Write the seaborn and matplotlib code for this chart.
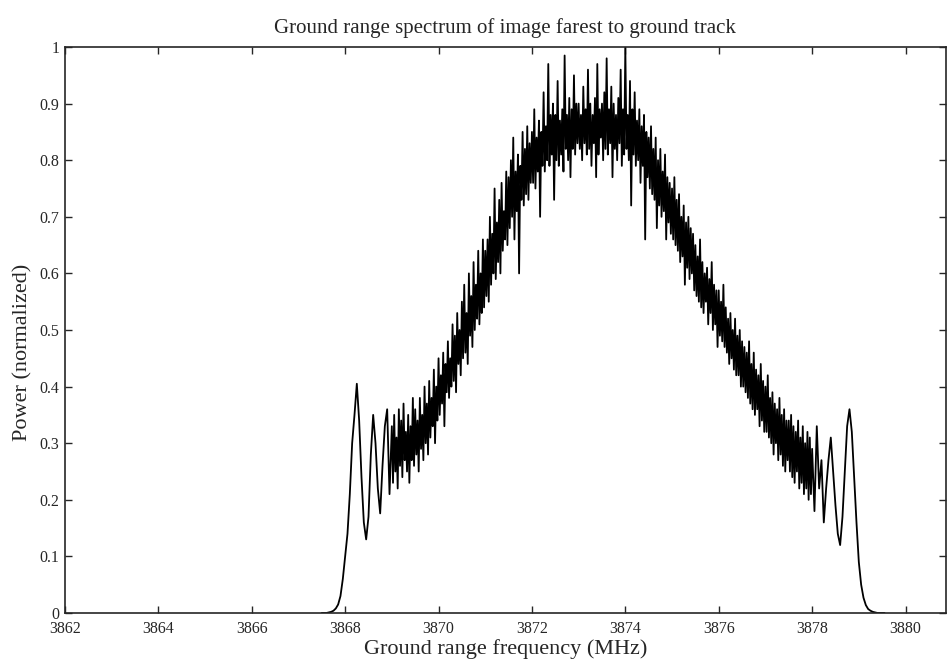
import numpy as np
import pandas as pd
import matplotlib
matplotlib.use("Agg")
import matplotlib.pyplot as plt
import seaborn as sns

# Spectrum in three pieces: the two band edges on a
# 0.05 MHz grid and the noisy main lobe on a finer 0.025 MHz grid.
left_start, left_step = 3867.50, 0.05
left_power = [
    0.0, 0.0, 0.0, 0.001, 0.002, 0.004, 0.008, 0.015, 0.03, 0.06,          # 3867.5
    0.10, 0.14, 0.21, 0.30, 0.35, 0.405, 0.34, 0.24, 0.16, 0.13,          # 3868.0
    0.17, 0.28, 0.35, 0.30, 0.22, 0.176, 0.26, 0.33, 0.36, 0.21,          # 3868.5
]

core_start, core_step = 3869.00, 0.025
core_power = [
    0.33, 0.23, 0.35, 0.25, 0.31, 0.22, 0.36, 0.26, 0.34, 0.24, 0.37, 0.27, 0.32, 0.25, 0.35, 0.23, 0.33, 0.27, 0.38, 0.26,  # 3869.0
    0.36, 0.28, 0.34, 0.25, 0.38, 0.29, 0.35, 0.27, 0.40, 0.30, 0.37, 0.28, 0.41, 0.31, 0.38, 0.33, 0.43, 0.30, 0.40, 0.34,  # 3869.5
    0.45, 0.35, 0.42, 0.37, 0.46, 0.33, 0.44, 0.39, 0.48, 0.38, 0.45, 0.40, 0.51, 0.41, 0.49, 0.39, 0.53, 0.44, 0.50, 0.42,  # 3870.0
    0.55, 0.45, 0.58, 0.46, 0.53, 0.44, 0.60, 0.49, 0.56, 0.47, 0.62, 0.50, 0.58, 0.52, 0.64, 0.51, 0.60, 0.53, 0.66, 0.54,  # 3870.5
    0.64, 0.56, 0.66, 0.55, 0.70, 0.58, 0.67, 0.60, 0.75, 0.59, 0.69, 0.62, 0.73, 0.60, 0.76, 0.64, 0.71, 0.66, 0.78, 0.65,  # 3871.0
    0.77, 0.68, 0.80, 0.70, 0.84, 0.66, 0.78, 0.71, 0.81, 0.60, 0.79, 0.73, 0.85, 0.72, 0.82, 0.74, 0.86, 0.73, 0.83, 0.76,  # 3871.5
    0.85, 0.76, 0.89, 0.75, 0.84, 0.78, 0.87, 0.70, 0.85, 0.79, 0.92, 0.78, 0.86, 0.80, 0.97, 0.79, 0.88, 0.81, 0.90, 0.73,  # 3872.0
    0.88, 0.80, 0.94, 0.79, 0.87, 0.81, 0.89, 0.78, 0.985, 0.82, 0.88, 0.80, 0.91, 0.77, 0.89, 0.82, 0.95, 0.81, 0.90, 0.83, # 3872.5
    0.90, 0.82, 0.88, 0.80, 0.93, 0.83, 0.89, 0.81, 0.96, 0.82, 0.90, 0.79, 0.88, 0.83, 0.91, 0.77, 0.97, 0.81, 0.89, 0.84,  # 3873.0
    0.90, 0.80, 0.92, 0.82, 0.98, 0.81, 0.89, 0.83, 0.93, 0.77, 0.90, 0.82, 0.88, 0.80, 0.91, 0.83, 0.96, 0.79, 0.89, 0.81,  # 3873.5
    1.00, 0.82, 0.88, 0.80, 0.94, 0.72, 0.89, 0.81, 0.92, 0.79, 0.87, 0.80, 0.89, 0.76, 0.86, 0.79, 0.88, 0.66, 0.85, 0.77,  # 3874.0
    0.84, 0.75, 0.86, 0.74, 0.82, 0.73, 0.84, 0.68, 0.80, 0.72, 0.82, 0.70, 0.78, 0.71, 0.81, 0.66, 0.77, 0.69, 0.76, 0.67,  # 3874.5
    0.75, 0.66, 0.77, 0.65, 0.73, 0.64, 0.74, 0.62, 0.70, 0.63, 0.72, 0.58, 0.69, 0.61, 0.70, 0.59, 0.68, 0.60, 0.67, 0.57,  # 3875.0
    0.65, 0.56, 0.63, 0.55, 0.66, 0.54, 0.62, 0.53, 0.60, 0.55, 0.61, 0.51, 0.59, 0.53, 0.62, 0.50, 0.58, 0.51, 0.57, 0.47,  # 3875.5
    0.57, 0.49, 0.55, 0.48, 0.58, 0.47, 0.54, 0.46, 0.52, 0.44, 0.53, 0.45, 0.50, 0.43, 0.52, 0.42, 0.49, 0.42, 0.50, 0.40,  # 3876.0
    0.48, 0.40, 0.47, 0.39, 0.46, 0.38, 0.48, 0.37, 0.44, 0.36, 0.46, 0.35, 0.43, 0.36, 0.42, 0.33, 0.44, 0.34, 0.41, 0.32,  # 3876.5
    0.40, 0.32, 0.42, 0.31, 0.38, 0.30, 0.39, 0.28, 0.37, 0.30, 0.36, 0.27, 0.38, 0.28, 0.35, 0.26, 0.36, 0.25, 0.34, 0.27,  # 3877.0
    0.34, 0.25, 0.35, 0.24, 0.33, 0.23, 0.32, 0.25, 0.34, 0.22, 0.31, 0.23, 0.33, 0.21, 0.30, 0.22, 0.32, 0.20, 0.31, 0.21,  # 3877.5
]

right_start, right_step = 3878.00, 0.05
right_power = [
    0.29, 0.18, 0.33, 0.22, 0.27, 0.16, 0.22, 0.27, 0.31, 0.25,           # 3878.0
    0.19, 0.14, 0.12, 0.17, 0.25, 0.33, 0.36, 0.32, 0.24, 0.16,           # 3878.5
    0.09, 0.05, 0.027, 0.014, 0.007, 0.004, 0.002, 0.001, 0.0, 0.0,       # 3879.0
    0.0, 0.0,                                                             # 3879.5
]

x_ticks = [3862, 3864, 3866, 3868, 3870, 3872, 3874, 3876, 3878, 3880]
y_ticks = [0, 0.1, 0.2, 0.3, 0.4, 0.5, 0.6, 0.7, 0.8, 0.9, 1]
y_tick_labels = ["0", "0.1", "0.2", "0.3", "0.4", "0.5", "0.6", "0.7", "0.8", "0.9", "1"]


def piece(start, step, values):
    return pd.DataFrame({"freq": start + step * np.arange(len(values)), "power": values})


df = pd.concat([piece(left_start, left_step, left_power),
                piece(core_start, core_step, core_power),
                piece(right_start, right_step, right_power)], ignore_index=True)

sns.set_style("ticks")
plt.rcParams["font.family"] = ["Liberation Serif", "DejaVu Serif"]
plt.rcParams["xtick.direction"] = "in"
plt.rcParams["ytick.direction"] = "in"

fig = plt.figure(figsize=(9.47, 6.66), dpi=100)
ax = fig.add_axes([0.0686, 0.0796, 0.930, 0.8498])

sns.lineplot(data=df, x="freq", y="power", color="black", linewidth=1.3, ax=ax)

ax.set_xlim(3862, 3880.86)
ax.set_ylim(0, 1)
ax.set_xticks(x_ticks)
ax.set_xticklabels([str(t) for t in x_ticks], fontsize=11.5)
ax.set_yticks(y_ticks)
ax.set_yticklabels(y_tick_labels, fontsize=11.5)
ax.tick_params(axis="x", top=True, length=5, width=1, pad=6)
ax.tick_params(axis="y", right=True, length=5, width=1, pad=4)
for s in ax.spines.values():
    s.set_visible(True)
    s.set_linewidth(1.2)

ax.set_title("Ground range spectrum of image farest to ground track", fontsize=15, pad=10)
ax.set_xlabel("Ground range frequency (MHz)", fontsize=16, labelpad=1)
ax.set_ylabel("Power (normalized)", fontsize=16)
ax.yaxis.set_label_coords(-0.037, 0.46)

fig.savefig("out.png", dpi=100)
